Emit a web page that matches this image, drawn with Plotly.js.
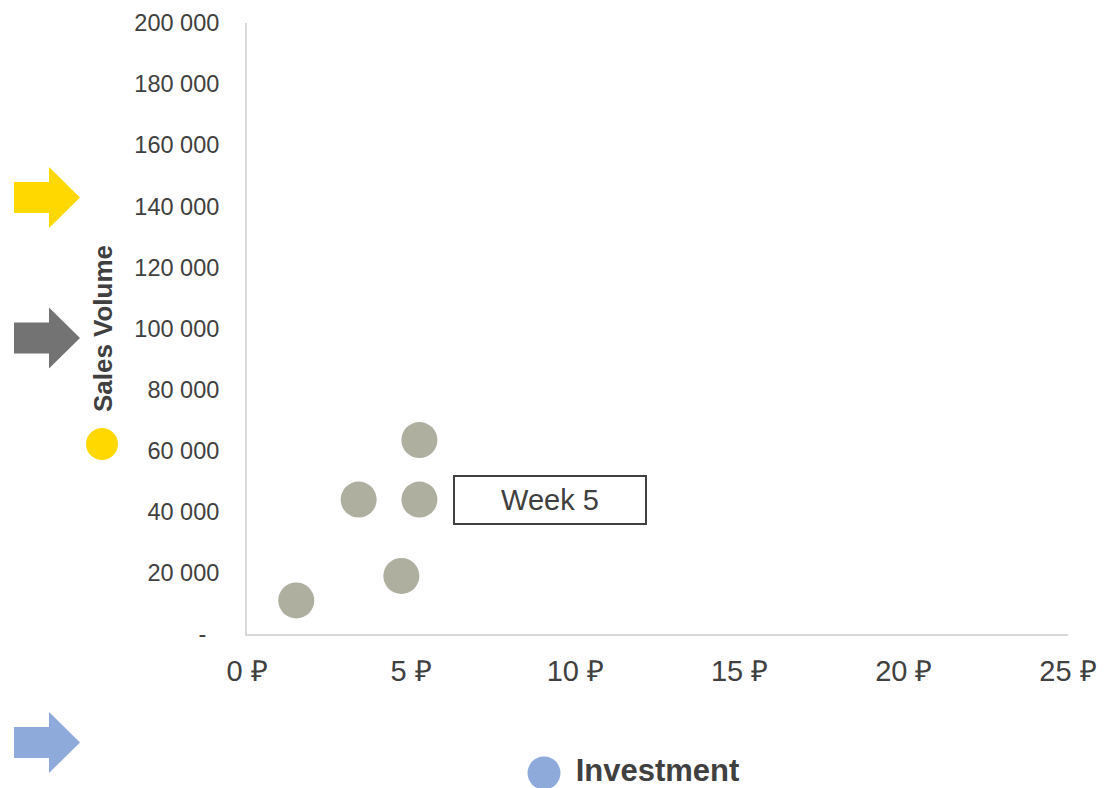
<!DOCTYPE html>
<html><head><meta charset="utf-8">
<script src="https://cdn.plot.ly/plotly-3.0.1.min.js"></script>
<style>html,body{margin:0;padding:0;background:#fff}</style>
</head><body><div id="chart" style="width:1104px;height:788px"></div>
<script>
// ---- data ----
const investment = [1.5, 3.4, 4.7, 5.25, 5.25];
const salesVolume = [11000, 44000, 19000, 44000, 63500];
const labelIndex = 3;
const labelText = 'Week 5';
const xTickVals = [0, 5, 10, 15, 20, 25];
const xTickText = ['0 ₽', '5 ₽', '10 ₽', '15 ₽', '20 ₽', '25 ₽'];
const yTickVals = [0, 20000, 40000, 60000, 80000, 100000, 120000, 140000, 160000, 180000, 200000];
const yTickText = ['-\u00a0\u00a0', '20 000', '40 000', '60 000', '80 000', '100 000', '120 000', '140 000', '160 000', '180 000', '200 000'];
const xTitle = 'Investment';
const yTitle = 'Sales Volume';

// ---- layout helpers (decorations) ----
const M = {l: 247, r: 36, t: 23, b: 154};
const W = 1104 - M.l - M.r, H = 788 - M.t - M.b;
const px = X => (X - M.l) / W;
const py = Y => (788 - M.b - Y) / H;
function arrow(cy, color) {
  const pts = [[14, cy - 15.5], [49, cy - 15.5], [49, cy - 30.5], [80, cy], [49, cy + 30.5], [49, cy + 15.5], [14, cy + 15.5]];
  const d = 'M' + pts.map(p => px(p[0]).toFixed(5) + ',' + py(p[1]).toFixed(5)).join(' L') + ' Z';
  return {type: 'path', xref: 'paper', yref: 'paper', path: d, fillcolor: color, line: {width: 0}};
}
function circle(cx, cy, r, color) {
  return {type: 'circle', xref: 'paper', yref: 'paper', x0: px(cx - r), x1: px(cx + r), y0: py(cy + r), y1: py(cy - r),
    fillcolor: color, line: {width: 0}};
}

const FONT = 'Liberation Sans, Arial, sans-serif';
const trace = {
  type: 'scatter', mode: 'markers', x: investment, y: salesVolume,
  marker: {size: 36, color: '#AEAF9F', line: {width: 0}},
  hoverinfo: 'x+y'
};
const layout = {
  width: 1104, height: 788,
  margin: M,
  paper_bgcolor: '#fff', plot_bgcolor: '#fff',
  showlegend: false,
  font: {family: FONT, color: '#404040'},
  xaxis: {
    range: [0, 25], tickvals: xTickVals, ticktext: xTickText,
    showgrid: false, zeroline: false, showline: true, linecolor: '#D9D9D9', linewidth: 2,
    ticks: '', tickfont: {size: 29, color: '#404040'}, ticklabelstandoff: 10,
    title: {text: xTitle, font: {size: 31, color: '#404040', weight: 'bold'}, standoff: 83},
    automargin: false, fixedrange: true
  },
  yaxis: {
    range: [0, 200000], tickvals: yTickVals, ticktext: yTickText,
    showgrid: false, zeroline: false, showline: true, linecolor: '#D9D9D9', linewidth: 2,
    ticks: '', tickfont: {size: 23.5, color: '#404040'}, ticklabelstandoff: 21,
    title: {text: yTitle, font: {size: 26, color: '#404040', weight: 'bold'}, standoff: 14},
    automargin: false, fixedrange: true
  },
  shapes: [
    arrow(197.5, '#FFD800'),
    arrow(338, '#737373'),
    arrow(742.5, '#8EAADB'),
    circle(102, 444, 16, '#FFD800'),
    circle(544, 773, 16.5, '#8EAADB')
  ],
  annotations: [{
    x: investment[labelIndex], y: salesVolume[labelIndex], xref: 'x', yref: 'y',
    text: labelText, showarrow: false, xanchor: 'left', yanchor: 'middle', xshift: 34,
    width: 188, height: 44, align: 'center', valign: 'middle',
    bordercolor: '#404040', borderwidth: 2, borderpad: 1, bgcolor: '#fff',
    font: {size: 29, color: '#404040', family: FONT}
  }]
};
Plotly.newPlot('chart', [trace], layout, {displayModeBar: false, staticPlot: true});
</script></body></html>
